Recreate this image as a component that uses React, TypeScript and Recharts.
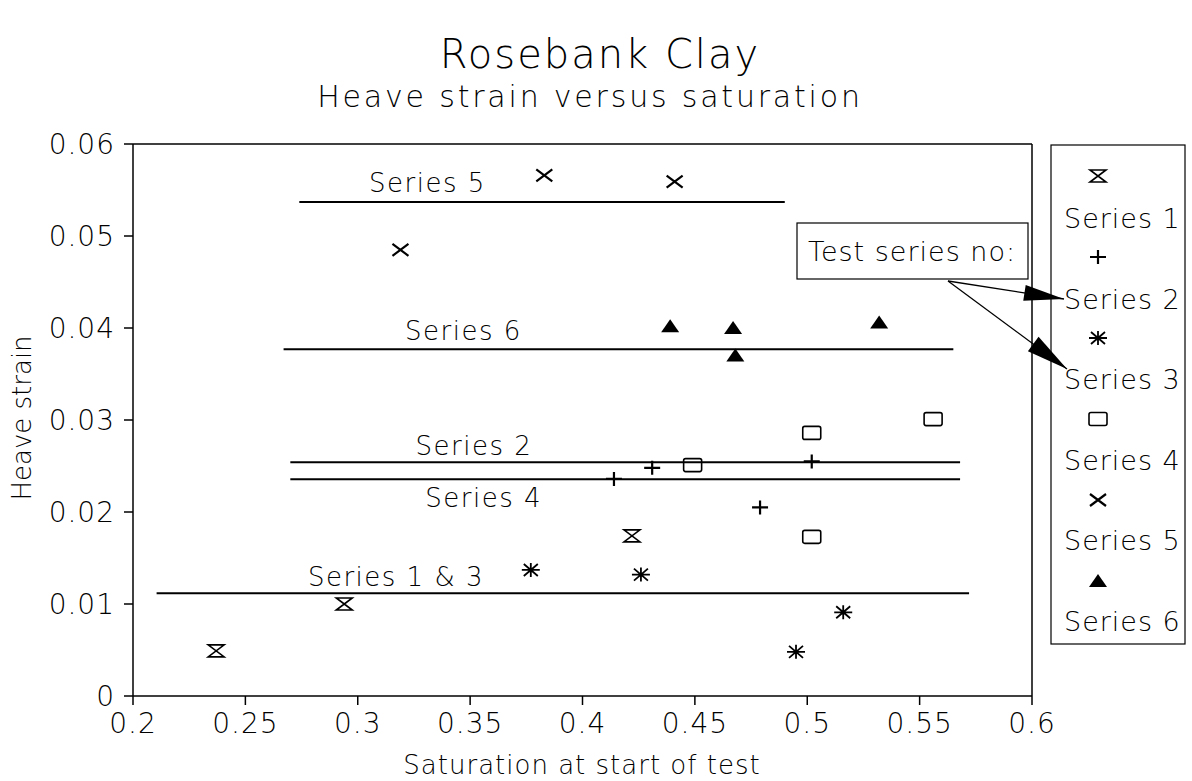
import React from 'react'
import {
  ScatterChart,
  Scatter,
  XAxis,
  YAxis,
  ReferenceLine,
  ReferenceDot,
} from 'recharts'

const FONT = '"DejaVu Sans", sans-serif'

// test points, saturation (x) vs heave strain (y)
const series1 = [
  { x: 0.237, y: 0.0049 },
  { x: 0.294, y: 0.01 },
  { x: 0.422, y: 0.0174 },
]
const series2 = [
  { x: 0.414, y: 0.0236 },
  { x: 0.431, y: 0.0248 },
  { x: 0.479, y: 0.0205 },
  { x: 0.502, y: 0.0255 },
]
const series3 = [
  { x: 0.377, y: 0.0137 },
  { x: 0.426, y: 0.0132 },
  { x: 0.495, y: 0.0048 },
  { x: 0.516, y: 0.0091 },
]
const series4 = [
  { x: 0.449, y: 0.0251 },
  { x: 0.502, y: 0.0286 },
  { x: 0.502, y: 0.0173 },
  { x: 0.556, y: 0.0301 },
]
const series5 = [
  { x: 0.319, y: 0.0485 },
  { x: 0.383, y: 0.0566 },
  { x: 0.441, y: 0.0559 },
]
const series6 = [
  { x: 0.439, y: 0.0402 },
  { x: 0.467, y: 0.04 },
  { x: 0.468, y: 0.037 },
  { x: 0.532, y: 0.0406 },
]

// mean lines drawn across each group
const fitNames = ['Series 5', 'Series 6', 'Series 2', 'Series 4', 'Series 1 & 3']
const fitLevel = [0.0537, 0.0377, 0.0254, 0.02355, 0.01116]
const fitFrom = [0.274, 0.267, 0.27, 0.27, 0.2105]
const fitTo = [0.49, 0.565, 0.568, 0.568, 0.572]
const fitLabelAt = [
  { x: 0.331, y: 0.0558 },
  { x: 0.347, y: 0.0397 },
  { x: 0.3517, y: 0.0272 },
  { x: 0.356, y: 0.0215 },
  { x: 0.317, y: 0.013 },
]

const xTicks = [0.2, 0.25, 0.3, 0.35, 0.4, 0.45, 0.5, 0.55, 0.6]
const yTicks = [0, 0.01, 0.02, 0.03, 0.04, 0.05, 0.06]
const legendNames = ['Series 1', 'Series 2', 'Series 3', 'Series 4', 'Series 5', 'Series 6']

type P = { cx?: number; cy?: number }

const Hourglass = ({ cx = 0, cy = 0 }: P) => (
  <path
    d={`M${cx - 8},${cy - 6}H${cx + 8}L${cx - 8},${cy + 6}H${cx + 8}Z`}
    fill="none"
    stroke="#000"
    strokeWidth={1.6}
  />
)
const Plus = ({ cx = 0, cy = 0 }: P) => (
  <path d={`M${cx - 8},${cy}H${cx + 8}M${cx},${cy - 7}V${cy + 7}`} stroke="#000" strokeWidth={2.2} />
)
const Star = ({ cx = 0, cy = 0 }: P) => (
  <path
    d={`M${cx - 9},${cy}H${cx + 9}M${cx - 7},${cy - 6}L${cx + 7},${cy + 6}M${cx - 7},${cy + 6}L${cx + 7},${cy - 6}M${cx},${cy - 7}V${cy + 7}`}
    stroke="#000"
    strokeWidth={1.8}
  />
)
const Box = ({ cx = 0, cy = 0 }: P) => (
  <rect x={cx - 9} y={cy - 6.5} width={18} height={13} rx={2} fill="none" stroke="#000" strokeWidth={1.6} />
)
const Cross = ({ cx = 0, cy = 0 }: P) => (
  <path d={`M${cx - 8},${cy - 6}L${cx + 8},${cy + 6}M${cx - 8},${cy + 6}L${cx + 8},${cy - 6}`} stroke="#000" strokeWidth={2.2} />
)
const Tri = ({ cx = 0, cy = 0 }: P) => (
  <path d={`M${cx},${cy - 7}L${cx + 9},${cy + 6}L${cx - 9},${cy + 6}Z`} fill="#000" />
)

const legendShapes = [Hourglass, Plus, Star, Box, Cross, Tri]

function arrowHead(x1: number, y1: number, x2: number, y2: number, len: number, half: number) {
  const dx = x2 - x1
  const dy = y2 - y1
  const d = Math.hypot(dx, dy)
  const ux = dx / d
  const uy = dy / d
  const bx = x2 - ux * len
  const by = y2 - uy * len
  return `${x2},${y2} ${bx - uy * half},${by + ux * half} ${bx + uy * half},${by - ux * half}`
}

function Overlay() {
  const tipA = { x: 1064, y: 299 }
  const tipB = { x: 1067, y: 369 }
  const from = { x: 948, y: 281 }
  return (
    <svg
      width={1192}
      height={781}
      style={{ position: 'absolute', left: 0, top: 0, pointerEvents: 'none' }}
      fontFamily={FONT}
    >
      <text x={600} y={68} textAnchor="middle" fontSize={40} fontWeight={300} letterSpacing={2}>
        Rosebank Clay
      </text>
      <text x={590} y={107} textAnchor="middle" fontSize={30} fontWeight={300} letterSpacing={2.8}>
        Heave strain versus saturation
      </text>
      <text x={582} y={774} textAnchor="middle" fontSize={26} fontWeight={300} letterSpacing={1}>
        Saturation at start of test
      </text>
      <text
        transform="translate(31,418) rotate(-90)"
        textAnchor="middle"
        fontSize={26}
        fontWeight={300}
      >
        Heave strain
      </text>

      {/* legend */}
      <rect x={1051} y={145} width={134} height={499} fill="#fff" stroke="#000" strokeWidth={1.2} />
      {legendNames.map((name, i) => {
        const Shape = legendShapes[i]
        return (
          <g key={name}>
            <Shape cx={1098} cy={176 + i * 81} />
            <text x={1064} y={228 + i * 80.5} fontSize={27} fontWeight={300} letterSpacing={1}>
              {name}
            </text>
          </g>
        )
      })}

      {/* callout */}
      <rect x={797} y={223} width={231} height={56} fill="#fff" stroke="#000" strokeWidth={1.2} />
      <text x={912} y={261} textAnchor="middle" fontSize={27} fontWeight={300} letterSpacing={1}>
        Test series no:
      </text>
      <line x1={from.x} y1={from.y} x2={tipA.x} y2={tipA.y} stroke="#000" strokeWidth={1.3} />
      <line x1={from.x} y1={from.y} x2={tipB.x} y2={tipB.y} stroke="#000" strokeWidth={1.3} />
      <polygon points={arrowHead(from.x, from.y, tipA.x, tipA.y, 40, 8)} fill="#000" />
      <polygon points={arrowHead(from.x, from.y, tipB.x, tipB.y, 42, 9)} fill="#000" />
    </svg>
  )
}

const tickStyle = { fill: '#000', fontSize: 28, fontFamily: FONT, fontWeight: 300, letterSpacing: 1 }

export default function App() {
  return (
    <div style={{ position: 'absolute', left: 0, top: 0, width: 1192, height: 781, background: '#fff' }}>
      <ScatterChart width={1192} height={781} margin={{ top: 144, right: 160, bottom: 25, left: 20 }}>
        <XAxis
          type="number"
          dataKey="x"
          domain={[0.2, 0.6]}
          ticks={xTicks}
          tickFormatter={(v: number) => String(v)}
          height={60}
          tickSize={9}
          tickMargin={8}
          stroke="#000"
          strokeWidth={1.5}
          tick={tickStyle}
          allowDataOverflow
        />
        <YAxis
          type="number"
          dataKey="y"
          domain={[0, 0.06]}
          ticks={yTicks}
          tickFormatter={(v: number) => String(v)}
          width={113}
          tickSize={9}
          tickMargin={9}
          stroke="#000"
          strokeWidth={1.5}
          tick={tickStyle}
          allowDataOverflow
        />
        <ReferenceLine y={0.06} stroke="#000" strokeWidth={1.5} />
        <ReferenceLine x={0.6} stroke="#000" strokeWidth={1.5} />
        {fitNames.map((name, i) => (
          <ReferenceLine
            key={name}
            segment={[
              { x: fitFrom[i], y: fitLevel[i] },
              { x: fitTo[i], y: fitLevel[i] },
            ]}
            stroke="#000"
            strokeWidth={2}
          />
        ))}
        {fitNames.map((name, i) => (
          <ReferenceDot
            key={'l' + name}
            x={fitLabelAt[i].x}
            y={fitLabelAt[i].y}
            r={0}
            fill="none"
            stroke="none"
            label={{
              value: name,
              position: 'center',
              fill: '#000',
              fontSize: 26,
              fontFamily: FONT,
              fontWeight: 300,
              letterSpacing: 1.5,
            }}
          />
        ))}
        <Scatter data={series1} shape={(p: P) => <Hourglass cx={p.cx} cy={p.cy} />} isAnimationActive={false} />
        <Scatter data={series2} shape={(p: P) => <Plus cx={p.cx} cy={p.cy} />} isAnimationActive={false} />
        <Scatter data={series3} shape={(p: P) => <Star cx={p.cx} cy={p.cy} />} isAnimationActive={false} />
        <Scatter data={series4} shape={(p: P) => <Box cx={p.cx} cy={p.cy} />} isAnimationActive={false} />
        <Scatter data={series5} shape={(p: P) => <Cross cx={p.cx} cy={p.cy} />} isAnimationActive={false} />
        <Scatter data={series6} shape={(p: P) => <Tri cx={p.cx} cy={p.cy} />} isAnimationActive={false} />
      </ScatterChart>
      <Overlay />
    </div>
  )
}
